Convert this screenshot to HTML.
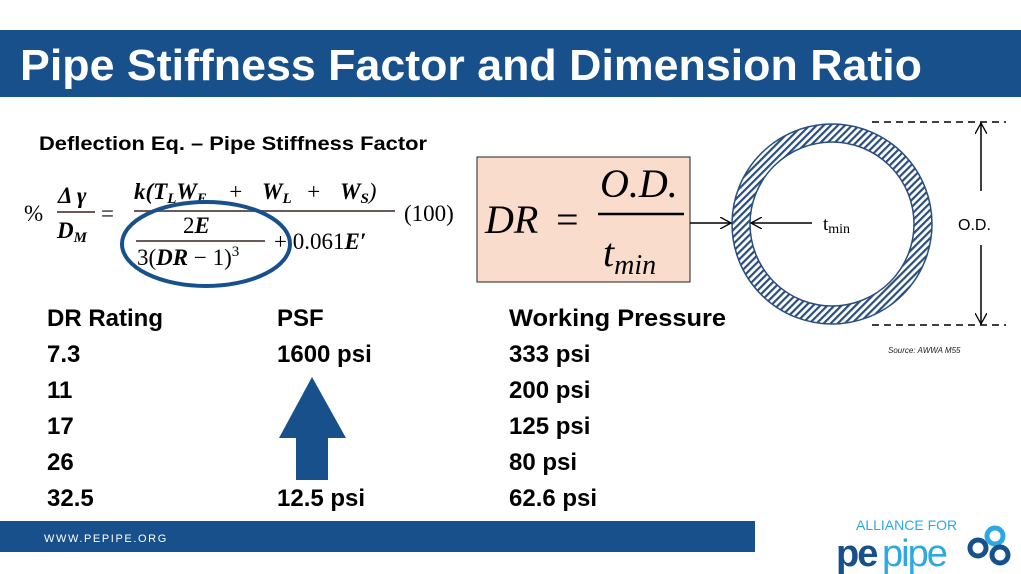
<!DOCTYPE html>
<html><head><meta charset="utf-8"><style>body{margin:0;background:#fff}svg{display:block}</style></head>
<body>
<svg width="1021" height="574" viewBox="0 0 1021 574" xmlns="http://www.w3.org/2000/svg" font-family="Liberation Sans, sans-serif">
<defs>
<pattern id="h" width="5" height="5" patternUnits="userSpaceOnUse" patternTransform="rotate(45)">
<rect width="5" height="5" fill="#fff"/><rect width="2.2" height="5" fill="#2a4f7e"/></pattern>
<marker id="a" viewBox="0 0 12 12" refX="11" refY="6" markerWidth="12" markerHeight="12" markerUnits="userSpaceOnUse" orient="auto"><path d="M0,0 L11,6 L0,12" fill="none" stroke="#000" stroke-width="1.3"/></marker>
</defs>
<rect x="0" y="30" width="1021" height="67" fill="#17508a"/>
<text x="20" y="80" font-size="44" font-weight="bold" fill="#fff" textLength="902" lengthAdjust="spacingAndGlyphs">Pipe Stiffness Factor and Dimension Ratio</text>
<text x="39" y="150" font-size="19" font-weight="bold" textLength="388" lengthAdjust="spacingAndGlyphs">Deflection Eq. – Pipe Stiffness Factor</text>
<!-- equation -->
<g font-family="Liberation Serif, serif" font-size="23">
<text x="24" y="221">%</text>
<text x="58" y="203" font-weight="bold" font-style="italic">Δ γ</text>
<line x1="57" y1="212" x2="95" y2="212" stroke="#6b5a58" stroke-width="2"/>
<text x="57" y="238" font-weight="bold" font-style="italic">D<tspan font-size="15" dy="4">M</tspan></text>
<text x="101" y="221">=</text>
<text x="134" y="199" font-weight="bold" font-style="italic">k(T<tspan font-size="15" dy="4">L</tspan><tspan dy="-4">W</tspan><tspan font-size="15" dy="4">E</tspan><tspan dy="-4" font-weight="normal" x="222"> + </tspan><tspan x="262">W</tspan><tspan font-size="15" dy="4">L</tspan><tspan dy="-4" font-weight="normal" x="300"> + </tspan><tspan x="340">W</tspan><tspan font-size="15" dy="4">S</tspan><tspan dy="-4" font-weight="normal">)</tspan></text>
<line x1="134" y1="211" x2="395" y2="211" stroke="#6b5a58" stroke-width="2"/>
<text x="183" y="233">2<tspan font-weight="bold" font-style="italic">E</tspan></text>
<line x1="136" y1="241" x2="265" y2="241" stroke="#6b5a58" stroke-width="2"/>
<text x="137" y="265">3(<tspan font-weight="bold" font-style="italic">DR</tspan> − 1)<tspan font-size="15" dy="-9">3</tspan></text>
<text x="274" y="249">+ 0.061<tspan font-weight="bold" font-style="italic">E′</tspan></text>
<text x="404" y="221">(100)</text>
</g>
<ellipse cx="206" cy="244" rx="84" ry="42" fill="none" stroke="#17508a" stroke-width="4"/>
<!-- DR box -->
<rect x="477" y="157" width="213" height="125" fill="#f9dccb" stroke="#222" stroke-width="1"/>
<g font-family="Liberation Serif, serif" font-style="italic" font-size="40">
<text x="485" y="233">DR</text><text x="556" y="233" font-style="normal">=</text>
<text x="600" y="197">O.D.</text>
<line x1="598" y1="214" x2="684" y2="214" stroke="#000" stroke-width="2.5"/>
<text x="603" y="266">t<tspan font-size="28" dy="8">min</tspan></text>
</g>
<!-- pipe -->
<circle cx="832" cy="224" r="91" fill="none" stroke="url(#h)" stroke-width="18"/>
<circle cx="832" cy="224" r="100" fill="none" stroke="#2a4f7e" stroke-width="1.5"/>
<circle cx="832" cy="224" r="82" fill="none" stroke="#2a4f7e" stroke-width="1.5"/>
<line x1="690" y1="223" x2="731" y2="223" stroke="#000" stroke-width="1.5" marker-end="url(#a)"/>
<line x1="812" y1="223" x2="751" y2="223" stroke="#000" stroke-width="1.5" marker-end="url(#a)"/>
<text x="823" y="230" font-family="Liberation Serif, serif" font-size="19">t<tspan font-size="14" dy="3">min</tspan></text>
<line x1="872" y1="122" x2="1006" y2="122" stroke="#000" stroke-width="1.5" stroke-dasharray="7,5"/>
<line x1="872" y1="325" x2="1006" y2="325" stroke="#000" stroke-width="1.5" stroke-dasharray="7,5"/>
<line x1="981" y1="191" x2="981" y2="123" stroke="#000" stroke-width="1.5" marker-end="url(#a)"/>
<line x1="981" y1="245" x2="981" y2="324" stroke="#000" stroke-width="1.5" marker-end="url(#a)"/>
<text x="958" y="230" font-size="16">O.D.</text>
<text x="888" y="353" font-size="8" font-style="italic" fill="#222">Source: AWWA M55</text>
<!-- table -->
<g font-size="24" font-weight="bold" fill="#000">
<text x="47" y="326">DR Rating</text><text x="277" y="326">PSF</text><text x="509" y="326" textLength="217" lengthAdjust="spacingAndGlyphs">Working Pressure</text>
<text x="47" y="362">7.3</text><text x="277" y="362">1600 psi</text><text x="509" y="362">333 psi</text>
<text x="47" y="398">11</text><text x="509" y="398">200 psi</text>
<text x="47" y="434">17</text><text x="509" y="434">125 psi</text>
<text x="47" y="470">26</text><text x="509" y="470">80 psi</text>
<text x="47" y="506">32.5</text><text x="277" y="506">12.5 psi</text><text x="509" y="506">62.6 psi</text>
</g>
<path d="M312,377 L346,438 L328,438 L328,480 L296,480 L296,438 L279,438 Z" fill="#17508a"/>
<!-- footer -->
<rect x="0" y="521" width="755" height="31" fill="#17508a"/>
<text x="44" y="542" font-size="11" fill="#fff" letter-spacing="1.6">WWW.PEPIPE.ORG</text>
<text x="856" y="530" font-size="14" fill="#2fa8e0">ALLIANCE FOR</text>
<text x="836" y="566" font-size="38" font-weight="bold" fill="#17508a" letter-spacing="-2">pe</text>
<text x="882" y="566" font-size="38" fill="#2fa8e0" letter-spacing="-2">pipe</text>
<circle cx="978" cy="548" r="8" fill="none" stroke="#17508a" stroke-width="5"/>
<circle cx="995" cy="536" r="8" fill="none" stroke="#2fa8e0" stroke-width="5"/>
<circle cx="1000" cy="555" r="8" fill="none" stroke="#17508a" stroke-width="5"/>
</svg>
</body></html>
